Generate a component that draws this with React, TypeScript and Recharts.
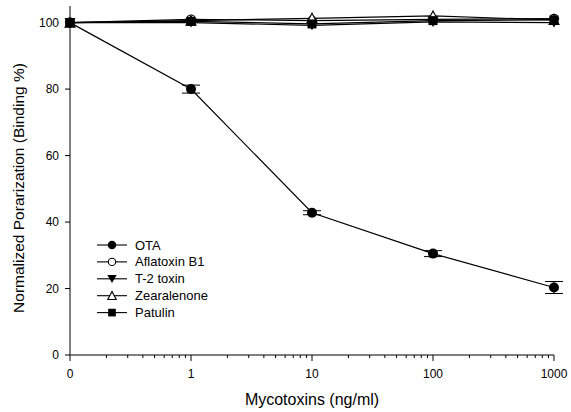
import React from "react";
import {
  LineChart,
  Line,
  XAxis,
  YAxis,
  ErrorBar,
  Label,
} from "recharts";

// x positions are decades on a log-like axis; 0 is drawn as its own slot
const doseLabels = ["0", "1", "10", "100", "1000"];
const doseSlots = [0, 1, 2, 3, 4];

const ota = [100, 80.0, 42.8, 30.5, 20.3];
const otaErr = [0, 1.2, 0.6, 0.9, 1.8];
const aflatoxinB1 = [100, 101.0, 100.6, 101.0, 101.2];
const t2Toxin = [100, 100.0, 99.2, 100.2, 100.0];
const zearalenone = [100, 100.6, 101.3, 102.0, 100.8];
const patulin = [100, 100.4, 99.6, 100.6, 100.8];

const yTicks = [0, 20, 40, 60, 80, 100];

const FONT = "'Liberation Sans', Arial, sans-serif";

// the page keeps the browser's 8px body margin; drop it so the chart fills the window
if (typeof document !== "undefined") document.body.style.margin = "0";

const data = doseSlots.map((x, i) => ({
  x,
  ota: ota[i],
  otaErr: otaErr[i],
  aflatoxinB1: aflatoxinB1[i],
  t2Toxin: t2Toxin[i],
  zearalenone: zearalenone[i],
  patulin: patulin[i],
}));

// major ticks at each slot, minor ticks at log positions 2..9 inside each decade
const minorTicks: number[] = [];
for (let d = 0; d < 4; d++) {
  for (let k = 2; k <= 9; k++) minorTicks.push(d + Math.log10(k));
}
const xTicks = [...doseSlots, ...minorTicks].sort((a, b) => a - b);

type MarkerKind = "circleFilled" | "circleOpen" | "triDown" | "triUp" | "square";

const Marker = ({
  kind,
  cx,
  cy,
  s = 1,
}: {
  kind: MarkerKind;
  cx: number;
  cy: number;
  s?: number;
}) => {
  switch (kind) {
    case "circleFilled":
      return <circle cx={cx} cy={cy} r={5 * s} fill="#000" />;
    case "circleOpen":
      return <circle cx={cx} cy={cy} r={4.3 * s} fill="#fff" stroke="#000" strokeWidth={1.1} />;
    case "triDown":
      return (
        <path
          d={`M${cx - 5.5 * s},${cy - 4.5 * s} L${cx + 5.5 * s},${cy - 4.5 * s} L${cx},${cy + 5 * s} Z`}
          fill="#000"
        />
      );
    case "triUp":
      return (
        <path
          d={`M${cx - 5 * s},${cy + 4.5 * s} L${cx + 5 * s},${cy + 4.5 * s} L${cx},${cy - 5 * s} Z`}
          fill="#fff"
          stroke="#000"
          strokeWidth={1.1}
        />
      );
    default:
      return <rect x={cx - 4.5 * s} y={cy - 4.5 * s} width={9 * s} height={9 * s} fill="#000" />;
  }
};

const dotFor = (kind: MarkerKind) => (props: any) => {
  const { cx, cy, index } = props;
  return (
    <g key={`${kind}-${index}`}>
      <Marker kind={kind} cx={cx} cy={cy} />
    </g>
  );
};

const XTick = (props: any) => {
  const { x, y, payload } = props;
  const v = payload.value as number;
  const idx = doseSlots.indexOf(v);
  const major = idx >= 0;
  const axisY = y - 8;
  return (
    <g>
      <line x1={x} x2={x} y1={axisY} y2={axisY + (major ? 6 : 3)} stroke="#000" strokeWidth={1} />
      {major && (
        <text
          x={x}
          y={axisY + 22.5}
          textAnchor="middle"
          fontSize={12}
          fontFamily={FONT}
          fill="#000"
        >
          {doseLabels[idx]}
        </text>
      )}
    </g>
  );
};

const legendItems: { label: string; kind: MarkerKind }[] = [
  { label: "OTA", kind: "circleFilled" },
  { label: "Aflatoxin B1", kind: "circleOpen" },
  { label: "T-2 toxin", kind: "triDown" },
  { label: "Zearalenone", kind: "triUp" },
  { label: "Patulin", kind: "square" },
];

const LegendBox = () => (
  <svg width={140} height={90} style={{ position: "absolute", left: 95, top: 237 }}>
    {legendItems.map((it, i) => {
      const cy = 8 + i * 16.9;
      return (
        <g key={it.label}>
          <line x1={2} x2={32} y1={cy} y2={cy} stroke="#000" strokeWidth={1.1} />
          <Marker kind={it.kind} cx={17} cy={cy} s={0.85} />
          <text x={40} y={cy + 4.5} fontSize={13} fontFamily={FONT} fill="#000">
            {it.label}
          </text>
        </g>
      );
    })}
  </svg>
);

export default function App() {
  return (
    <div style={{ width: 571, height: 412, background: "#fff", position: "relative" }}>
      <LineChart
        width={571}
        height={412}
        data={data}
        margin={{ top: 6, right: 17, left: 0, bottom: 0 }}
      >
        <XAxis
          type="number"
          dataKey="x"
          domain={[0, 4]}
          ticks={xTicks}
          interval={0}
          tick={<XTick />}
          tickLine={false}
          axisLine={{ stroke: "#000", strokeWidth: 1 }}
          height={57}
        >
          <Label
            content={() => (
              <text
                x={312}
                y={405}
                textAnchor="middle"
                fontSize={16}
                fontFamily={FONT}
                fill="#000"
              >
                Mycotoxins (ng/ml)
              </text>
            )}
          />
        </XAxis>
        <YAxis
          type="number"
          domain={[0, 105]}
          ticks={yTicks}
          interval={0}
          width={70}
          tickSize={5}
          tickMargin={6}
          tick={{ fontSize: 12, fontFamily: FONT, fill: "#000" }}
          tickLine={{ stroke: "#000" }}
          axisLine={{ stroke: "#000", strokeWidth: 1 }}
        >
          <Label
            content={() => (
              <text
                x={24}
                y={188}
                transform="rotate(-90 24 188)"
                textAnchor="middle"
                fontSize={15.5}
                fontFamily={FONT}
                fill="#000"
              >
                Normalized Porarization (Binding %)
              </text>
            )}
          />
        </YAxis>
        <Line
          dataKey="ota"
          stroke="#000"
          strokeWidth={1.2}
          dot={dotFor("circleFilled")}
          isAnimationActive={false}
        >
          <ErrorBar dataKey="otaErr" width={9} stroke="#000" strokeWidth={1} direction="y" />
        </Line>
        <Line
          dataKey="aflatoxinB1"
          stroke="#000"
          strokeWidth={1.2}
          dot={dotFor("circleOpen")}
          isAnimationActive={false}
        />
        <Line
          dataKey="t2Toxin"
          stroke="#000"
          strokeWidth={1.2}
          dot={dotFor("triDown")}
          isAnimationActive={false}
        />
        <Line
          dataKey="zearalenone"
          stroke="#000"
          strokeWidth={1.2}
          dot={dotFor("triUp")}
          isAnimationActive={false}
        />
        <Line
          dataKey="patulin"
          stroke="#000"
          strokeWidth={1.2}
          dot={dotFor("square")}
          isAnimationActive={false}
        />
      </LineChart>
      <LegendBox />
    </div>
  );
}
